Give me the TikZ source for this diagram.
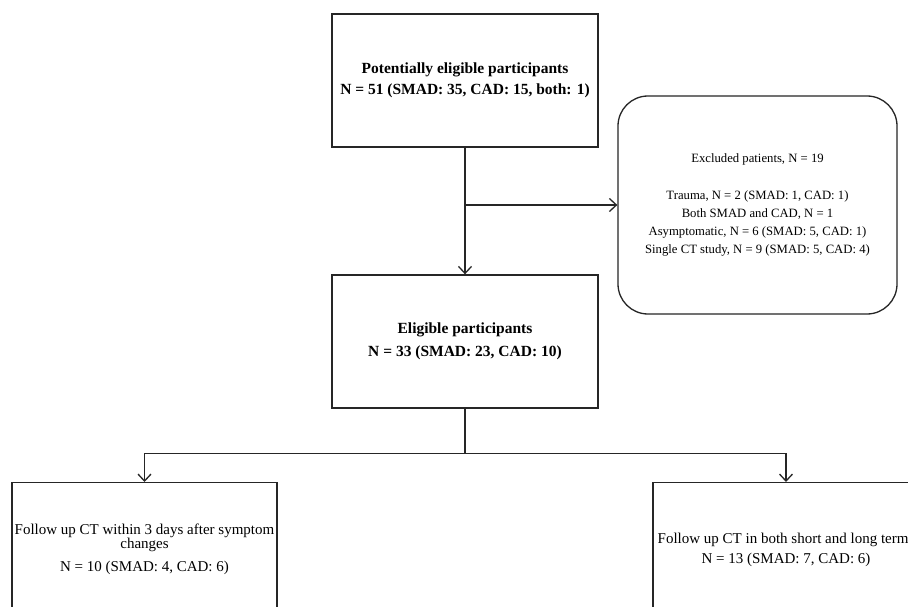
\documentclass[tikz,border=0pt]{standalone}
\usepackage{fontspec}
\setmainfont{Liberation Serif}
\usetikzlibrary{arrows.meta}
\begin{document}
\begin{tikzpicture}[x=1pt,y=-1pt,
  box/.style={draw=black!85, line width=1.3pt, fill=white, align=center, inner sep=0pt},
  arr/.style={draw=black!85, line width=1.3pt, -{Straight Barb[length=7pt,width=13pt,line width=1.3pt]}},
  conn/.style={draw=black!85, line width=1.3pt}]
\useasboundingbox (0,0) rectangle (908,607);
\clip (0,0) rectangle (908,607);
\fill[white] (0,0) rectangle (908,607);

\node[box, minimum width=266pt, minimum height=133pt,
      font=\fontsize{15.5}{21}\selectfont\bfseries] (top) at (465,80.5)
  {Potentially eligible participants\\N = 51 (SMAD: 35, CAD: 15, both: 1)};

\node[box, rounded corners=30pt, minimum width=279pt, minimum height=218pt,
      font=\fontsize{12.7}{18}\selectfont] (exc) at (757.5,205)
  {Excluded patients, N = 19\\[19pt]Trauma, N = 2 (SMAD: 1, CAD: 1)\\Both SMAD and CAD, N = 1\\Asymptomatic, N = 6 (SMAD: 5, CAD: 1)\\Single CT study, N = 9 (SMAD: 5, CAD: 4)};

\node[box, minimum width=266pt, minimum height=133pt,
      font=\fontsize{15.5}{23}\selectfont\bfseries] (elig) at (465,341.5)
  {Eligible participants\\N = 33 (SMAD: 23, CAD: 10)};

\node[box, anchor=north, minimum width=265pt, minimum height=134pt,
      font=\fontsize{15}{14}\selectfont] (lbox) at (144.5,482)
  {Follow up CT within 3 days after symptom\\changes\\[9pt]N = 10 (SMAD: 4, CAD: 6)};

\node[box, anchor=north, minimum width=266pt, minimum height=134pt,
      font=\fontsize{15}{20}\selectfont] (rbox) at (786,482)
  {Follow up CT in both short and long terms\\N = 13 (SMAD: 7, CAD: 6)};

\draw[arr] (top.south) -- (elig.north);
\draw[arr] (top.south |- exc.west) -- (exc.west);
\draw[conn] (elig.south) -- ++(0,45) coordinate (split);
\draw[arr] (split) -| (lbox.north);
\draw[arr] (split) -| (rbox.north);
\end{tikzpicture}
\end{document}
